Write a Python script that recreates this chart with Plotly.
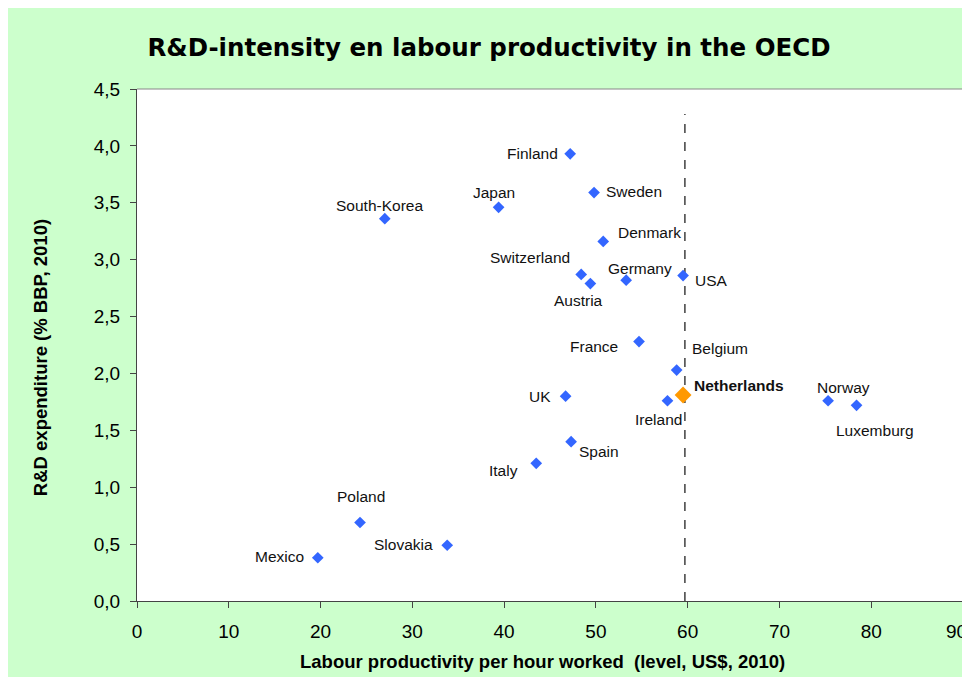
import plotly.graph_objects as go

countries = ["Finland", "Sweden", "Japan", "South-Korea", "Denmark", "Switzerland",
             "Germany", "Austria", "USA", "France", "Belgium", "Ireland", "UK",
             "Norway", "Luxemburg", "Spain", "Italy", "Poland", "Slovakia", "Mexico"]
productivity = [47.2, 49.8, 39.4, 27.0, 50.8, 48.4, 53.3, 49.4, 59.5, 54.7, 58.8,
                57.8, 46.7, 75.3, 78.4, 47.3, 43.5, 24.3, 33.8, 19.7]
rd_intensity = [3.93, 3.59, 3.46, 3.36, 3.16, 2.87, 2.82, 2.79, 2.86, 2.28, 2.03,
                1.76, 1.80, 1.76, 1.72, 1.40, 1.21, 0.69, 0.49, 0.38]

nl_name = "Netherlands"
nl_productivity = 59.5
nl_rd = 1.81

ref_line_x = [59.7, 59.7]
ref_line_y = [0, 4.28]

x_ticks = [0, 10, 20, 30, 40, 50, 60, 70, 80, 90]
x_tick_labels = ["0", "10", "20", "30", "40", "50", "60", "70", "80", "90"]
y_ticks = [0, 0.5, 1.0, 1.5, 2.0, 2.5, 3.0, 3.5, 4.0, 4.5]

title_text = "R&D-intensity en labour productivity in the OECD"
x_title = "Labour productivity per hour worked  (level, US$, 2010)"
y_title = "R&D expenditure (% BBP, 2010)"

# label placement (anchor, xshift, yshift) in pixels
label_pos = {
    "Finland": ("right", -10, 0),
    "Sweden": ("left", 10, 1),
    "Japan": ("center", -5, 15),
    "South-Korea": ("center", -5, 13),
    "Denmark": ("left", 13, 9),
    "Switzerland": ("right", -9, 17),
    "Germany": ("center", 14, 12),
    "Austria": ("center", -12, -17),
    "USA": ("left", 10, -5),
    "France": ("right", -19, -5),
    "Belgium": ("left", 13, 22),
    "Ireland": ("center", -9, -19),
    "UK": ("right", -13, 0),
    "Norway": ("center", 15, 13),
    "Luxemburg": ("center", 18, -25),
    "Spain": ("left", 6, -10),
    "Italy": ("right", -16, -7),
    "Poland": ("center", 1, 26),
    "Slovakia": ("right", -12, 1),
    "Mexico": ("right", -12, 1),
}

SANS = "Liberation Sans, Arial, Helvetica, sans-serif"
LBL_FONT = dict(family=SANS, size=15.5, color="#111111")
TICK_FONT = dict(family=SANS, size=19, color="black")

fig = go.Figure()
fig.add_trace(go.Scatter(x=ref_line_x, y=ref_line_y, mode="lines",
                         line=dict(color="#222222", width=1.3, dash="dash"),
                         hoverinfo="skip", showlegend=False))
fig.add_trace(go.Scatter(x=productivity, y=rd_intensity, mode="markers", text=countries,
                         marker=dict(symbol="diamond", size=9, color="#3366FF"),
                         showlegend=False))
fig.add_trace(go.Scatter(x=[nl_productivity], y=[nl_rd], mode="markers", text=[nl_name],
                         marker=dict(symbol="diamond", size=13, color="#FF9900"),
                         showlegend=False))

annotations = []
for name, xv, yv in zip(countries, productivity, rd_intensity):
    anc, dx, dy = label_pos[name]
    annotations.append(dict(x=xv, y=yv, xref="x", yref="y", text=name, showarrow=False,
                            xanchor=anc, yanchor="middle", xshift=dx, yshift=dy,
                            font=LBL_FONT))
annotations.append(dict(x=nl_productivity, y=nl_rd, xref="x", yref="y",
                        text="<b>" + nl_name + "</b>", showarrow=False,
                        xanchor="left", yanchor="middle", xshift=9, yshift=10,
                        font=LBL_FONT))
# last x tick label, kept inside the figure edge
annotations.append(dict(x=x_ticks[-1], y=0, xref="x", yref="y", text=x_tick_labels[-1],
                        showarrow=False, xanchor="right", yanchor="middle",
                        xshift=6, yshift=-30, font=TICK_FONT))
# axis titles
annotations.append(dict(x=0.491, y=-0.119, xref="paper", yref="paper",
                        text="<b>" + x_title + "</b>", showarrow=False,
                        xanchor="center", yanchor="middle",
                        font=dict(family=SANS, size=18.5, color="black")))
annotations.append(dict(x=-0.117, y=0.475, xref="paper", yref="paper",
                        text="<b>" + y_title + "</b>", showarrow=False, textangle=-90,
                        xanchor="center", yanchor="middle",
                        font=dict(family=SANS, size=18.5, color="black")))

shapes = [
    dict(type="line", xref="paper", yref="paper", x0=0, x1=1, y0=1, y1=1,
         line=dict(color="#888888", width=1.2), layer="above"),
    dict(type="line", xref="paper", yref="paper", x0=1, x1=1, y0=0, y1=1,
         line=dict(color="#888888", width=1.2), layer="above"),
]

fig.update_layout(
    width=962, height=669,
    margin=dict(l=129, r=7, t=81, b=76, autoexpand=False),
    paper_bgcolor="#CCFFCC",
    plot_bgcolor="white",
    separators=",.",
    title=dict(text="<b>" + title_text + "</b>",
               x=0.5, xref="container", xanchor="center",
               y=1 - 39 / 669, yref="container", yanchor="middle",
               font=dict(family="DejaVu Sans, Verdana, sans-serif", size=24.5, color="black")),
    xaxis=dict(range=[0, 90], tickvals=x_ticks,
               ticktext=x_tick_labels[:-1] + [""],
               showgrid=False, zeroline=False,
               showline=True, linecolor="#444444", linewidth=1.3,
               ticks="outside", ticklen=6, tickcolor="#444444",
               ticklabelstandoff=7, automargin=False,
               tickfont=TICK_FONT),
    yaxis=dict(range=[0, 4.5], tickvals=y_ticks, tickformat=".1f", showgrid=False,
               zeroline=False, showline=True, linecolor="#444444", linewidth=1.3,
               ticks="outside", ticklen=6, tickcolor="#444444",
               ticklabelstandoff=6, automargin=False,
               tickfont=TICK_FONT),
    annotations=annotations,
    shapes=shapes,
)

fig.write_html("out.html")
